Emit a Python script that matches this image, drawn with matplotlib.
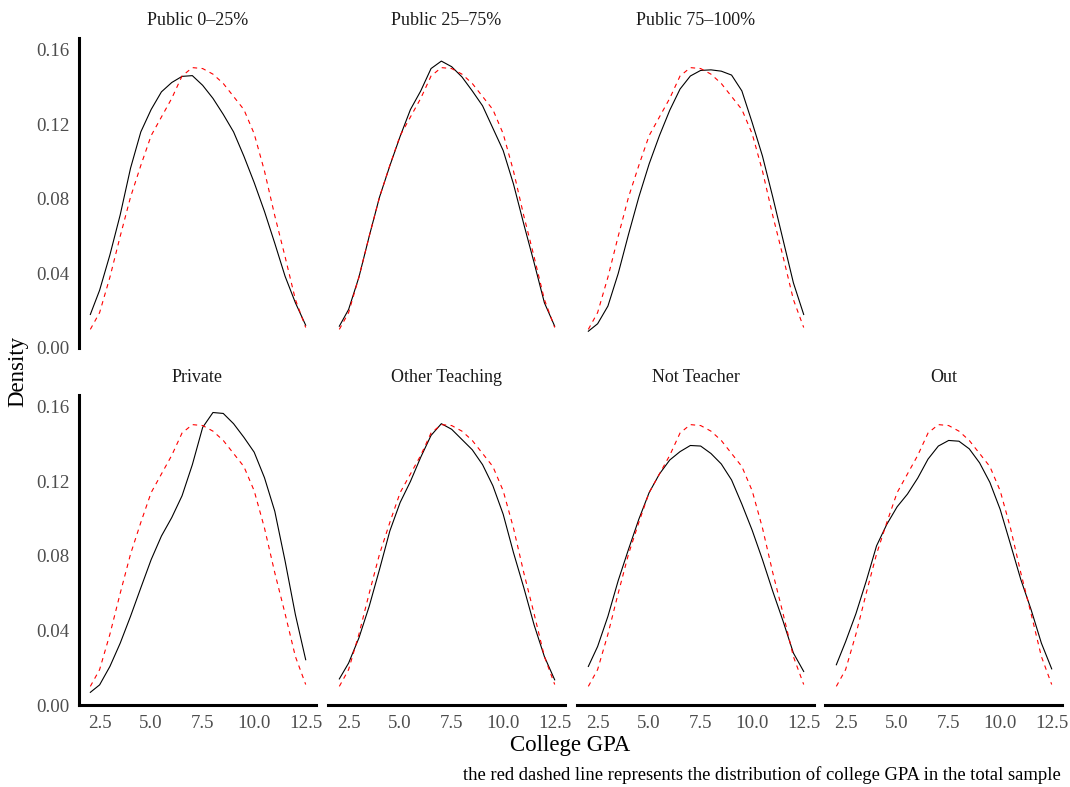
import matplotlib.pyplot as plt

plt.rcParams['font.family'] = ['Liberation Serif', 'DejaVu Serif']

# college GPA grid and density estimates per career group
gpa = [2.05, 2.5, 3.0, 3.5, 4.0, 4.5, 5.0, 5.5, 6.0, 6.5, 7.0,
       7.5, 8.0, 8.5, 9.0, 9.5, 10.0, 10.5, 11.0, 11.5, 12.0, 12.5]

total_sample = [0.010, 0.019, 0.038, 0.060, 0.081, 0.098, 0.114, 0.124, 0.134, 0.146, 0.1505,
                0.150, 0.147, 0.142, 0.135, 0.128, 0.115, 0.095, 0.071, 0.049, 0.026, 0.011]

public_0_25 = [0.018, 0.031, 0.050, 0.0715, 0.0965, 0.116, 0.128, 0.1375, 0.1425, 0.1458, 0.1462,
               0.141, 0.134, 0.1254, 0.116, 0.103, 0.0888, 0.0733, 0.0562, 0.0385, 0.0243, 0.0122]
public_25_75 = [0.0117, 0.0207, 0.038, 0.060, 0.081, 0.0978, 0.1136, 0.128, 0.138, 0.150, 0.154,
                0.151, 0.1455, 0.138, 0.130, 0.118, 0.106, 0.088, 0.0665, 0.0458, 0.0243, 0.0117]
public_75_100 = [0.009, 0.013, 0.0225, 0.040, 0.061, 0.081, 0.0988, 0.114, 0.1276, 0.139, 0.146,
                 0.149, 0.1493, 0.1486, 0.1465, 0.138, 0.121, 0.103, 0.081, 0.058, 0.035, 0.018]
private = [0.0068, 0.0108, 0.0207, 0.0332, 0.0476, 0.0629, 0.078, 0.0907, 0.1006, 0.1123, 0.129,
           0.149, 0.157, 0.1565, 0.151, 0.1437, 0.1357, 0.122, 0.104, 0.0773, 0.0485, 0.0243]
other_teaching = [0.014, 0.0225, 0.036, 0.053, 0.0728, 0.0934, 0.1087, 0.120, 0.133, 0.1447, 0.151,
                  0.148, 0.1425, 0.137, 0.129, 0.1177, 0.1024, 0.0818, 0.063, 0.043, 0.026, 0.0135]
not_teacher = [0.0207, 0.0314, 0.0476, 0.0668, 0.0836, 0.0997, 0.114, 0.124, 0.1315, 0.136, 0.1393,
               0.139, 0.135, 0.1294, 0.1208, 0.1078, 0.0938, 0.078, 0.061, 0.045, 0.0279, 0.018]
out_group = [0.0216, 0.034, 0.049, 0.0665, 0.0854, 0.097, 0.1064, 0.1132, 0.1218, 0.132, 0.139,
             0.142, 0.1416, 0.1375, 0.130, 0.1195, 0.105, 0.0863, 0.0674, 0.0512, 0.0332, 0.0194]

panel_titles = ['Public 0\u201325%', 'Public 25\u201375%', 'Public 75\u2013100%',
                'Private', 'Other Teaching', 'Not Teacher', 'Out']
panel_values = [public_0_25, public_25_75, public_75_100,
                private, other_teaching, not_teacher, out_group]

x_ticks = [2.5, 5.0, 7.5, 10.0, 12.5]
y_ticks = [0.00, 0.04, 0.08, 0.12, 0.16]

W, H = 1070, 787
col_left = [79, 328, 577, 825]
row_top = [38, 395]
panel_w, panel_h = 237, 310

fig = plt.figure(figsize=(W / 100, H / 100), dpi=100)

for i, (title, dens) in enumerate(zip(panel_titles, panel_values)):
    row, col = (0, i) if i < 3 else (1, i - 3)
    ax = fig.add_axes([col_left[col] / W, 1 - (row_top[row] + panel_h) / H,
                       panel_w / W, panel_h / H])
    ax.plot(gpa, dens, color='black', lw=0.8)
    ax.plot(gpa, total_sample, color='red', lw=0.8, dashes=(4, 4))
    ax.set_xlim(1.5, 13.0)
    ax.set_ylim(0, 0.1664)
    ax.set_xticks(x_ticks)
    ax.set_yticks(y_ticks)
    ax.set_xticklabels([f'{v:.1f}' for v in x_ticks])
    ax.set_yticklabels([f'{v:.2f}' for v in y_ticks])
    ax.tick_params(length=0, labelsize=13.6, labelcolor='#4d4d4d', pad=7)
    for side in ['top', 'right', 'left', 'bottom']:
        ax.spines[side].set_visible(False)
    if col == 0:
        ax.spines['left'].set_visible(True)
        ax.spines['left'].set_linewidth(2.2)
    else:
        ax.tick_params(labelleft=False)
    if row == 1:
        ax.spines['bottom'].set_visible(True)
        ax.spines['bottom'].set_linewidth(2.2)
    else:
        ax.tick_params(labelbottom=False)
    ax.text(0.5, 1.055, title, transform=ax.transAxes, ha='center', va='center',
            fontsize=13, color='#1a1a1a')

fig.text(18 / W, 1 - 371 / H, 'Density', rotation=90, ha='center', va='center', fontsize=16.5)
fig.text(570 / W, 1 - 746 / H, 'College GPA', ha='center', va='center', fontsize=16.5)
fig.text(1061 / W, 1 - 775 / H,
         'the red dashed line represents the distribution of college GPA in the total sample',
         ha='right', va='center', fontsize=13.4)

fig.savefig('out.png', dpi=100)
